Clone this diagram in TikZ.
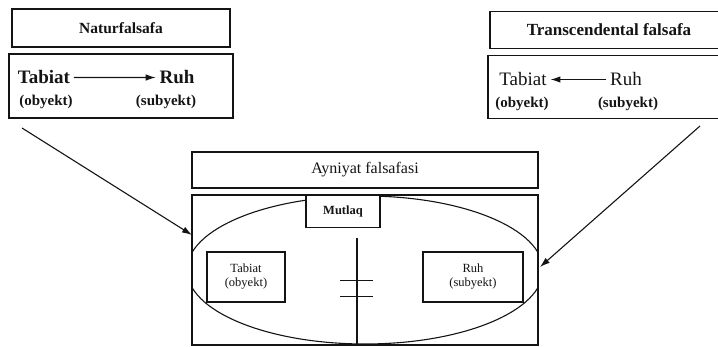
\documentclass[tikz,border=0pt]{standalone}
\usepackage{fontspec}
\setmainfont{Liberation Serif}
\usetikzlibrary{positioning, arrows.meta}
\definecolor{inkc}{RGB}{20,20,20}

\begin{document}
\begin{tikzpicture}[x=1pt, y=-1pt, inkc, line width=1.1pt,
  box/.style={draw, rectangle, inner sep=0pt},
  hdr/.style={font=\fontsize{15.5}{17}\selectfont\bfseries},
  hdrm/.style={font=\fontsize{16}{18}\selectfont},
  big/.style={font=\fontsize{19}{21}\selectfont\bfseries},
  bigm/.style={font=\fontsize{19}{21}\selectfont},
  sub/.style={font=\fontsize{15}{17}\selectfont\bfseries},
  thin/.style={font=\fontsize{12.5}{14}\selectfont},
  tip/.style={-{Latex[length=10pt, width=6.5pt]}}]
\useasboundingbox (0,0) rectangle (718,347);

% top left: x 10..232
\node[box, minimum width=218pt, minimum height=38pt, hdr] (natT) at (121,28) {Naturfalsafa};
\node[box, minimum width=224pt, minimum height=64pt] (natB) at (121,86) {};
\node[big, anchor=base] (natTab) at (44,84) {Tabiat};
\node[big, anchor=base] (natRuh) at (177,84) {Ruh};
\node[sub, anchor=base] (natOb)  at (46,106) {(obyekt)};
\node[sub, anchor=base] (natSub) at (166,106) {(subyekt)};
\draw[tip] (natTab) -- (natRuh);

% top right: box runs past the page edge
\node[box, minimum width=234pt, minimum height=37pt] (trT) at (607,30) {};
\node[hdr, font=\fontsize{17}{19}\selectfont\bfseries] (trTx) at (609,30) {Transcendental falsafa};
\node[box, minimum width=236pt, minimum height=63pt] (trB) at (606,87) {};
\node[bigm, anchor=base] (trTab) at (523,86) {Tabiat};
\node[bigm, anchor=base] (trRuh) at (626,86) {Ruh};
\node[sub, anchor=base] (trOb)  at (522,108) {(obyekt)};
\node[sub, anchor=base] (trSub) at (628,108) {(subyekt)};
\draw[tip] (trRuh) -- (trTab);

% middle
\node[box, minimum width=346pt, minimum height=36pt, hdrm] (ayn) at (365,170) {Ayniyat falsafasi};
\node[box, minimum width=346pt, minimum height=150pt] (abs) at (365,270) {};
\begin{scope}
  \clip (abs.south west) rectangle (abs.north east);
  \draw (365,270) ellipse [x radius=178pt, y radius=74pt];
\end{scope}
\node[box, fill=white, minimum width=74pt, minimum height=32pt, font=\fontsize{12.5}{14}\selectfont\bfseries, anchor=north] (mut) at (343,195) {Mutlaq};
\node[box, fill=white, minimum width=78pt, minimum height=50pt, thin, align=center] (tab) at (246,277) {Tabiat\\(obyekt)};
\node[box, fill=white, minimum width=100pt, minimum height=50pt, thin, align=center] (ruh) at (473,277) {Ruh\\(subyekt)};
\coordinate (vtop) at (357,238);
\coordinate (vbot) at (357,345);
\draw (vtop) -- (vbot);
\draw[line width=0.8pt] (340,280) -- (373,280);
\draw[line width=0.8pt] (340,296) -- (373,296);

% incoming arrows
\coordinate (lfrom) at (22,128);
\coordinate (lto) at (192,235);
\coordinate (rfrom) at (700,126);
\coordinate (rto) at (540,267);
\draw[tip] (lfrom) -- (lto);
\draw[tip] (rfrom) -- (rto);
\end{tikzpicture}
\end{document}
